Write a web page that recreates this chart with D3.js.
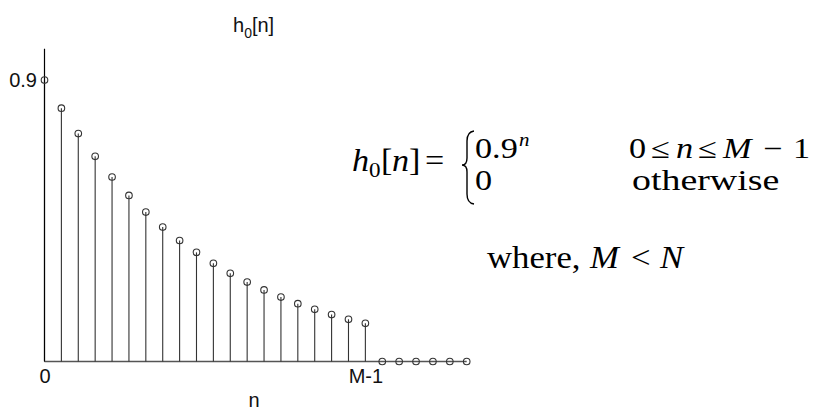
<!DOCTYPE html>
<html>
<head>
<meta charset="utf-8">
<script src="https://cdn.jsdelivr.net/npm/d3@7/dist/d3.min.js"></script>
<style>
  html, body { margin: 0; padding: 0; background: #fff; }
  svg { display: block; }
</style>
</head>
<body>
<svg id="chart" width="817" height="412"></svg>
<script>
// ---- data ----
const nValues = [0,1,2,3,4,5,6,7,8,9,10,11,12,13,14,15,16,17,18,19,20,21,22,23,24,25];
const hValues = [0.900,0.810,0.729,0.656,0.590,0.531,0.478,0.430,0.387,0.349,
                 0.314,0.282,0.254,0.229,0.206,0.185,0.167,0.150,0.135,0.122,
                 0,0,0,0,0,0];
const xTickValues = [0, 19];
const xTickLabels = ["0", "M-1"];
const yTickValues = [0.9];
const yTickLabels = ["0.9"];

(function () {
const svg = d3.select("#chart");
const W = 817, H = 412;
svg.append("rect").attr("width", W).attr("height", H).attr("fill", "#fff");

const x = d3.scaleLinear().domain([0, 25]).range([44.5, 466.7]);
const y = d3.scaleLinear().domain([0, 1]).range([361.5, 48.8]);

const sans = "'Liberation Sans', Arial, Helvetica, sans-serif";
const serif = "'Liberation Serif', 'Times New Roman', Times, serif";

const data = nValues.map((n, i) => ({ n, v: hValues[i] }));

// baseline
svg.append("line")
  .attr("x1", x(0)).attr("x2", x(25))
  .attr("y1", y(0)).attr("y2", y(0))
  .attr("stroke", "#555").attr("stroke-width", 1.6);

// stems
svg.append("g").selectAll("line").data(data.filter(d => d.v > 0)).join("line")
  .attr("x1", d => x(d.n)).attr("x2", d => x(d.n))
  .attr("y1", y(0)).attr("y2", d => y(d.v))
  .attr("stroke", "#333").attr("stroke-width", 1.1);

// y axis line
svg.append("line")
  .attr("x1", x(0)).attr("x2", x(0))
  .attr("y1", y(0)).attr("y2", y(1))
  .attr("stroke", "#000").attr("stroke-width", 1.2);

// markers
svg.append("g").selectAll("circle").data(data).join("circle")
  .attr("cx", d => x(d.n)).attr("cy", d => y(d.v))
  .attr("r", 3.3)
  .attr("fill", "none").attr("stroke", "#333").attr("stroke-width", 1.1);

// axes (labels only)
const xAxis = d3.axisBottom(x).tickValues(xTickValues)
  .tickFormat((d, i) => xTickLabels[i]).tickSize(0).tickPadding(7.5);
const gx = svg.append("g").attr("transform", `translate(0,${y(0)})`).call(xAxis);
gx.select(".domain").remove();
gx.selectAll("text").attr("font-family", sans).attr("font-size", 20).attr("fill", "#111");

const yAxis = d3.axisLeft(y).tickValues(yTickValues)
  .tickFormat((d, i) => yTickLabels[i]).tickSize(0).tickPadding(7.5);
const gy = svg.append("g").attr("transform", `translate(${x(0)},0)`).call(yAxis);
gy.select(".domain").remove();
gy.selectAll("text").attr("font-family", sans).attr("font-size", 20).attr("fill", "#111");

// title h0[n]
const title = svg.append("text").attr("x", 233).attr("y", 32)
  .attr("font-family", sans).attr("font-size", 20).attr("fill", "#111");
title.append("tspan").text("h");
title.append("tspan").attr("font-size", 14).attr("dy", 6).text("0");
title.append("tspan").attr("dy", -6).text("[n]");

// x label
svg.append("text").attr("x", 254).attr("y", 407).attr("text-anchor", "middle")
  .attr("font-family", sans).attr("font-size", 20).attr("fill", "#111").text("n");

// ---- equation ----
// opt.w: fit the piece to this width (px); otherwise use horizontal scale opt.sx
function place(t, px, baseline, opt) {
  const o = Object.assign({ fs: 28.5, sx: 1.2, it: false }, opt || {});
  const el = svg.append("text").attr("x", 0).attr("y", 0)
    .attr("font-family", serif).attr("font-size", o.fs)
    .attr("font-style", o.it ? "italic" : "normal").attr("fill", "#000")
    .text(t);
  let sx = o.sx;
  if (o.w) sx = o.w / el.node().getComputedTextLength();
  el.attr("transform", `translate(${px},${baseline}) scale(${sx},1)`);
}

// left-hand side h0[n] =
const L = { fs: 31, sx: 1.1 };
place("h", 352, 171, { ...L, it: true });
place("0", 369, 177, { fs: 21, sx: 1.1 });
place("[", 381, 171, L);
place("n", 392, 171, { ...L, it: true });
place("]", 409, 171, L);
place("=", 425, 171, L);

// cases
place("0.9", 475, 158);
place("n", 519, 146, { it: true, fs: 19, sx: 1.1 });
place("0", 475, 190);

place("0", 629, 158);
place("≤", 651, 158, { w: 19 });
place("n", 676, 158, { it: true });
place("≤", 698, 158, { w: 19 });
place("M", 723, 158, { it: true });
place("−", 763, 158);
place("1", 793, 158);

place("otherwise", 632, 190, { sx: 1.33 });

// where, M < N
const Wh = { fs: 31, sx: 1.12 };
place("where,", 487, 268, Wh);
place("M", 590, 268, { ...Wh, it: true });
place("<", 631, 268, Wh);
place("N", 660, 268, { ...Wh, it: true });

// brace
const bx = 467, bTop = 131, bBot = 204, bMid = 165;
const brace = d3.path();
brace.moveTo(bx + 7, bTop);
brace.quadraticCurveTo(bx, bTop + 1, bx, bTop + 10);
brace.lineTo(bx, bMid - 7);
brace.quadraticCurveTo(bx, bMid, bx - 5, bMid);
brace.quadraticCurveTo(bx, bMid, bx, bMid + 7);
brace.lineTo(bx, bBot - 10);
brace.quadraticCurveTo(bx, bBot - 1, bx + 7, bBot);
svg.append("path").attr("d", brace.toString())
  .attr("fill", "none").attr("stroke", "#000").attr("stroke-width", 1.4);
})();
</script>
</body>
</html>
